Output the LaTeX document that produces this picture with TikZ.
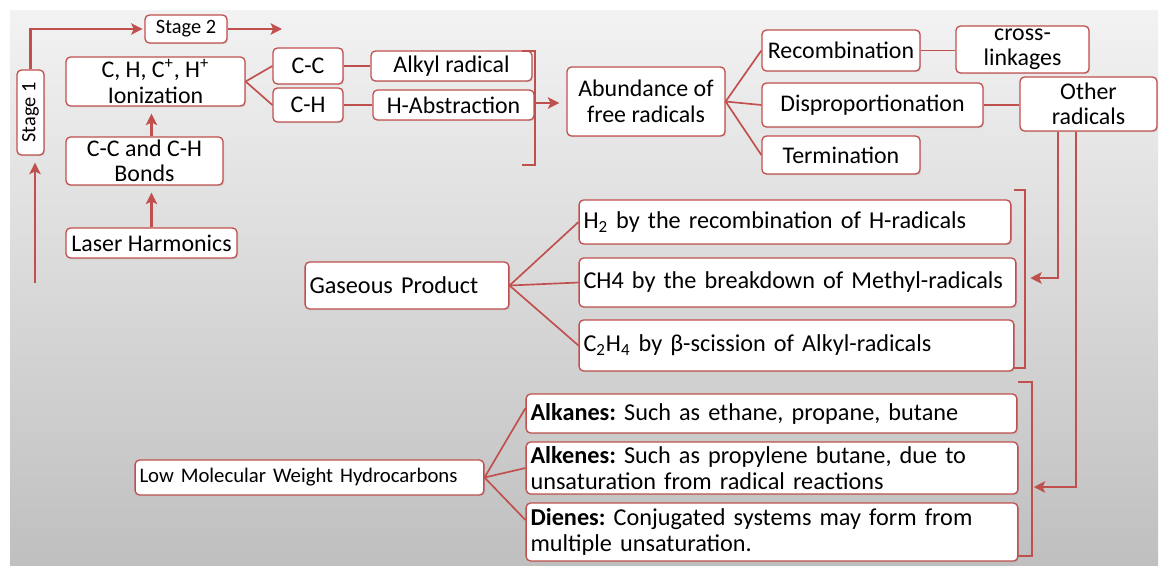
\documentclass[tikz,border=0pt]{standalone}
\usepackage{fontspec}
\setmainfont{Carlito}
\usepackage{xcolor}
\usetikzlibrary{
	arrows.meta,
	shadows
}
\definecolor{accent}{HTML}{C0504D}
\frenchspacing

\begin{document}
\begin{tikzpicture}[x=0.02cm, y=-0.02cm,
		box/.style={draw=accent, fill=white, line width=0.75pt, rounded corners=2.5pt, inner sep=1pt, align=center,
			font=\fontsize{13.6}{14.5}\selectfont,
			drop shadow={shadow xshift=0.7pt, shadow yshift=-0.7pt, opacity=0.2}},
		lbox/.style={box, align=left, inner xsep=2.5pt, font=\fontsize{13.8}{14.8}\selectfont},
		link/.style={draw=accent, line width=0.95pt},
		arr/.style={link, line width=1.25pt, -{Stealth[length=6.5pt, width=6.5pt, inset=1.5pt]}}]
		% background panel
		\useasboundingbox (0,0) rectangle (1161,569);
		\fill[white] (0,0) rectangle (1161,569);
		\shade[top color=gray!10, bottom color=gray!50] (10,10) rectangle (1158,565);

		% stage 1
		\node[box, rotate=90, minimum width=1.70cm, minimum height=0.54cm, font=\fontsize{11.6}{13}\selectfont] (stageone) at (30.5,112.5) {Stage 1};
		\node[box, minimum width=1.64cm, minimum height=0.56cm, font=\fontsize{11.6}{13}\selectfont] (stagetwo) at (186,29) {Stage 2};
		\node[box, minimum width=3.58cm, minimum height=0.98cm] (ion) at (155.5,81.5) {C, H, C\textsuperscript{+}, H\textsuperscript{+}\\Ionization};
		\node[box, minimum width=3.14cm, minimum height=0.96cm] (bonds) at (144.5,161) {C-C and C-H\\Bonds};
		\node[box, minimum width=3.42cm, minimum height=0.60cm] (laser) at (151.5,243) {Laser Harmonics};
		\node[box, minimum width=1.40cm, minimum height=0.72cm] (cc) at (308,66) {C-C};
		\node[box, minimum width=1.40cm, minimum height=0.68cm] (ch) at (308,105) {C-H};
		\node[box, minimum width=3.22cm, minimum height=0.60cm] (alkyl) at (451.5,66) {Alkyl radical};
		\node[box, minimum width=3.22cm, minimum height=0.60cm] (habs) at (453.5,105) {H-Abstraction};

		% free radicals
		\node[box, minimum width=3.16cm, minimum height=1.38cm] (abund) at (646,101.5) {Abundance of\\free radicals};
		\node[box, minimum width=3.16cm, minimum height=0.82cm] (recomb) at (841,50.5) {Recombination};
		\node[box, minimum width=2.66cm, minimum height=0.94cm] (cross) at (1022.5,49.5) {cross-\\linkages};
		\node[box, minimum width=4.42cm, minimum height=0.88cm] (dispro) at (872.5,105) {Disproportionation};
		\node[box, minimum width=2.74cm, minimum height=1.08cm] (other) at (1088.5,104) {Other\\radicals};
		\node[box, minimum width=3.16cm, minimum height=0.76cm] (term) at (841,155) {Termination};

		% stage 2 products
		\node[lbox, text width=3.90cm, minimum height=0.94cm] (gas) at (407,285.5) {Gaseous Product};
		\node[lbox, text width=8.46cm, minimum height=0.88cm] (htwo) at (795,222) {H\textsubscript{2} by the recombination of H-radicals};
		\node[lbox, text width=8.56cm, minimum height=0.98cm] (chfour) at (797.5,282.5) {CH4 by the breakdown of Methyl-radicals};
		\node[lbox, text width=8.52cm, minimum height=1.02cm] (ctwo) at (796.5,345.5) {C\textsubscript{2}H\textsubscript{4} by β-scission of Alkyl-radicals};
		\node[lbox, text width=6.80cm, minimum height=0.70cm, font=\fontsize{11.8}{13}\selectfont] (lowmw) at (309.5,477.5) {Low Molecular Weight Hydrocarbons};
		\node[lbox, text width=9.64cm, minimum height=0.78cm] (alkanes) at (771.5,413.5) {\textbf{Alkanes:} Such as ethane, propane, butane};
		\node[lbox, text width=9.66cm, minimum height=1.04cm] (alkenes) at (772,468) {\textbf{Alkenes:} Such as propylene butane, due to\\unsaturation from radical reactions};
		\node[lbox, text width=9.66cm, minimum height=1.16cm] (dienes) at (772,532) {\textbf{Dienes:} Conjugated systems may form from\\multiple unsaturation.};

		% stage arrows
		\coordinate (sonestart) at (35,283);
		\coordinate (stwoend) at (282,29);
		\draw[arr, shorten >=4pt] (sonestart) -- (sonestart |- stageone.west);
		\draw[arr, shorten >=1pt] (stageone.east) |- (stagetwo.west);
		\draw[arr] (stagetwo.east) -- (stwoend);
		\draw[arr, shorten >=4pt] (laser.north) -- (laser.north |- bonds.south);
		\draw[arr, shorten >=4pt] (laser.north |- bonds.north) -- (laser.north |- ion.south);

		% bonds
		\draw[link] (ion.east) -- (cc.west);
		\draw[link] (ion.east) -- (ch.west);
		\draw[link] (cc) -- (alkyl);
		\draw[link] (ch) -- (habs);

		% bracket to free radicals
		\draw[link] (522,51) -- (535,51) -- (535,165) -- (522,165);
		\coordinate (brone) at (535,103);
		\draw[arr, shorten >=4pt] (brone) -- (brone -| abund.west);

		\draw[link] (abund.east) -- (recomb.west);
		\draw[link] (abund.east) -- (dispro.west);
		\draw[link] (abund.east) -- (term.west);
		\draw[link] (recomb.east) -- (recomb.east -| cross.west);
		\draw[link] (dispro.east) -- (dispro.east -| other.west);

		% gaseous product
		\draw[link] (gas.east) -- (htwo.west);
		\draw[link] (gas.east) -- (chfour.west);
		\draw[link] (gas.east) -- (ctwo.west);
		\draw[link] (1014,190) -- (1025,190) -- (1025,368) -- (1014,368);
		\coordinate (brtwo) at (1025,278);
		\draw[arr, shorten >=3pt] ([xshift=-17.3pt]other.south) |- (brtwo);

		% hydrocarbons
		\draw[link] (lowmw.east) -- ([yshift=3.1pt]alkanes.west);
		\draw[link] (lowmw.east) -- (alkenes.west);
		\draw[link] (lowmw.east) -- ([yshift=6.8pt]dienes.west);
		\draw[link] (1018,382) -- (1032,382) -- (1032,556) -- (1018,556);
		\coordinate (brthree) at (1032,487);
		\draw[arr, shorten >=1pt] ([xshift=-7.1pt]other.south) |- (brthree);
	\end{tikzpicture}
\end{document}
